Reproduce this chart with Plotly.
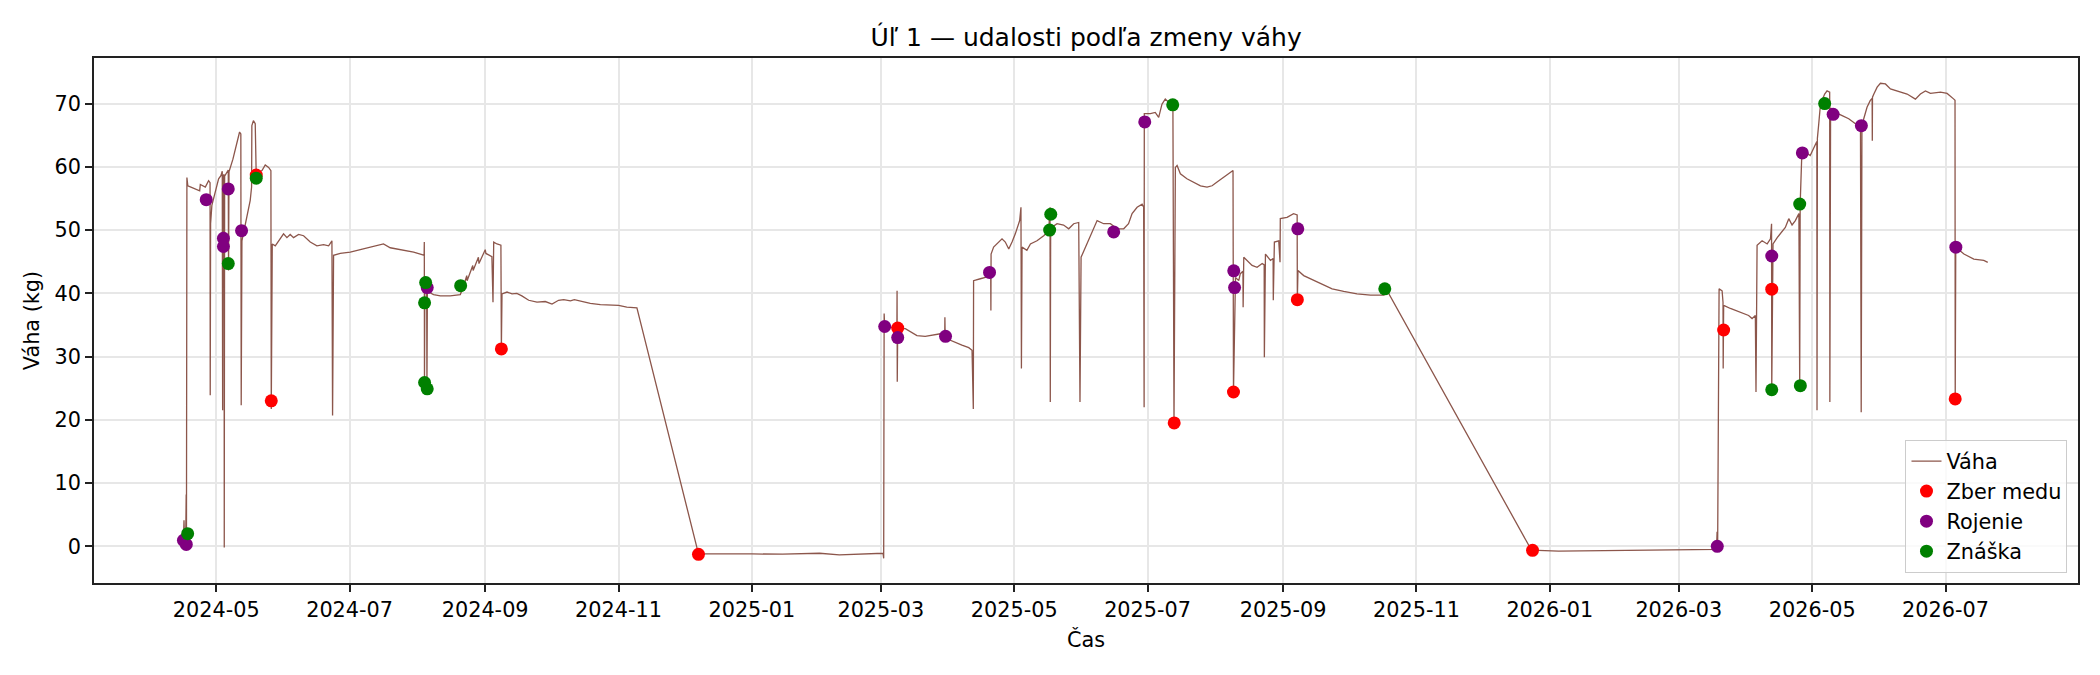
import plotly.graph_objects as go

# ---------------- data ----------------
# weight series (time, kg), split by season
vaha_2024 = [
    ("2024-04-16 00:00", 0.8), ("2024-04-16 06:00", 4.1), ("2024-04-16 12:00", 0.6),
    ("2024-04-17 00:00", 0.3), ("2024-04-17 06:00", 8.2), ("2024-04-17 09:00", 1.0),
    ("2024-04-17 14:00", 58.3), ("2024-04-18 00:00", 57.0), ("2024-04-19 10:00", 56.8),
    ("2024-04-21 10:00", 56.5), ("2024-04-23 10:00", 56.2), ("2024-04-23 17:00", 57.2),
    ("2024-04-25 05:00", 57.0), ("2024-04-26 00:00", 56.8), ("2024-04-27 12:00", 57.8),
    ("2024-04-28 04:00", 57.5), ("2024-04-28 06:00", 23.9), ("2024-04-28 10:00", 51.0),
    ("2024-04-29 00:00", 53.9), ("2024-04-30 13:00", 56.2), ("2024-05-02 02:00", 58.1),
    ("2024-05-03 03:00", 58.6), ("2024-05-03 18:00", 59.3), ("2024-05-03 22:00", 21.5),
    ("2024-05-04 02:00", 58.5), ("2024-05-04 14:00", 58.8), ("2024-05-04 16:00", -0.2),
    ("2024-05-04 20:00", 58.5), ("2024-05-06 12:00", 59.5), ("2024-05-06 15:00", 43.6),
    ("2024-05-06 20:00", 59.2), ("2024-05-08 15:00", 61.2), ("2024-05-10 04:00", 63.6),
    ("2024-05-11 16:00", 65.5), ("2024-05-12 06:00", 65.2), ("2024-05-12 10:00", 22.3),
    ("2024-05-12 18:00", 48.3), ("2024-05-15 00:00", 52.0), ("2024-05-16 13:00", 54.7),
    ("2024-05-17 04:00", 56.8), ("2024-05-17 07:00", 66.5), ("2024-05-18 00:00", 67.3),
    ("2024-05-18 20:00", 66.8), ("2024-05-19 07:00", 58.5), ("2024-05-20 09:00", 59.1),
    ("2024-05-21 22:00", 59.4), ("2024-05-23 10:00", 60.3), ("2024-05-24 23:00", 59.9),
    ("2024-05-26 00:00", 59.4), ("2024-05-26 04:00", 21.7), ("2024-05-26 15:00", 47.8),
    ("2024-05-28 00:00", 47.5), ("2024-05-31 19:00", 49.4), ("2024-06-02 08:00", 48.8),
    ("2024-06-03 20:00", 49.3), ("2024-06-05 09:00", 48.8), ("2024-06-07 16:00", 49.3),
    ("2024-06-09 23:00", 49.1), ("2024-06-13 00:00", 48.1), ("2024-06-16 01:00", 47.5),
    ("2024-06-19 02:00", 47.7), ("2024-06-21 10:00", 47.5), ("2024-06-22 22:00", 48.3),
    ("2024-06-23 05:00", 20.7), ("2024-06-23 16:00", 46.0), ("2024-06-26 17:00", 46.3),
    ("2024-07-01 07:00", 46.5), ("2024-07-05 21:00", 46.9), ("2024-07-10 10:00", 47.3),
    ("2024-07-15 00:00", 47.7), ("2024-07-16 12:00", 47.8), ("2024-07-19 14:00", 47.2),
    ("2024-07-24 04:00", 46.9), ("2024-07-30 07:00", 46.5), ("2024-08-03 03:00", 46.1),
    ("2024-08-04 02:00", 46.0), ("2024-08-04 04:00", 48.1), ("2024-08-04 06:00", 25.6),
    ("2024-08-04 10:00", 41.0), ("2024-08-05 06:00", 40.6), ("2024-08-05 09:00", 24.9),
    ("2024-08-05 14:00", 40.4), ("2024-08-06 03:00", 40.2), ("2024-08-08 10:00", 39.8),
    ("2024-08-11 12:00", 39.6), ("2024-08-16 00:00", 39.6), ("2024-08-20 15:00", 39.8),
    ("2024-08-22 00:00", 41.0), ("2024-08-23 14:00", 42.8), ("2024-08-23 18:00", 42.0),
    ("2024-08-26 08:00", 44.4), ("2024-08-26 12:00", 43.6), ("2024-08-28 22:00", 45.7),
    ("2024-08-29 04:00", 44.7), ("2024-09-01 01:00", 46.9), ("2024-09-01 08:00", 46.3),
    ("2024-09-04 02:00", 45.8), ("2024-09-04 14:00", 38.6), ("2024-09-04 22:00", 48.1),
    ("2024-09-06 10:00", 47.8), ("2024-09-08 05:00", 47.6), ("2024-09-08 10:00", 31.2),
    ("2024-09-08 17:00", 39.9), ("2024-09-11 00:00", 40.2), ("2024-09-13 07:00", 39.9),
    ("2024-09-15 12:00", 40.0), ("2024-09-17 19:00", 39.6), ("2024-09-20 22:00", 38.9),
    ("2024-09-24 17:00", 38.6), ("2024-09-28 12:00", 38.7), ("2024-10-01 14:00", 38.3),
    ("2024-10-04 14:00", 38.9), ("2024-10-06 22:00", 39.0), ("2024-10-10 00:00", 38.8),
    ("2024-10-11 19:00", 39.0), ("2024-10-14 12:00", 38.8), ("2024-10-19 02:00", 38.4),
    ("2024-10-23 17:00", 38.2), ("2024-10-28 05:00", 38.1), ("2024-11-01 01:00", 38.1),
    ("2024-11-04 19:00", 37.8), ("2024-11-09 10:00", 37.7),
]
vaha_zima_1 = [
    ("2024-12-07 14:00", -1.2), ("2024-12-20 00:00", -1.15), ("2025-01-01 00:00", -1.2),
    ("2025-01-15 00:00", -1.25), ("2025-02-01 00:00", -1.1), ("2025-02-10 00:00", -1.35),
    ("2025-02-20 00:00", -1.2), ("2025-03-02 00:00", -1.1), ("2025-03-02 07:00", -1.9),
]
vaha_2025 = [
    ("2025-03-02 12:00", 36.8), ("2025-03-02 18:00", 34.75), ("2025-03-05 07:00", 34.6),
    ("2025-03-08 08:00", 34.5), ("2025-03-08 10:00", 40.4), ("2025-03-08 12:00", 26.0),
    ("2025-03-08 17:00", 34.4), ("2025-03-12 05:00", 34.4), ("2025-03-14 12:00", 33.9),
    ("2025-03-17 12:00", 33.3), ("2025-03-21 07:00", 33.2), ("2025-03-25 02:00", 33.4),
    ("2025-03-28 05:00", 33.6), ("2025-03-30 05:00", 33.3), ("2025-03-30 07:00", 36.2),
    ("2025-03-30 10:00", 33.2), ("2025-03-31 05:00", 32.8), ("2025-04-03 07:00", 32.3),
    ("2025-04-07 02:00", 31.8), ("2025-04-10 05:00", 31.4), ("2025-04-11 17:00", 31.0),
    ("2025-04-12 07:00", 21.7), ("2025-04-12 10:00", 42.0), ("2025-04-15 12:00", 42.3),
    ("2025-04-17 19:00", 42.5), ("2025-04-20 06:00", 43.0), ("2025-04-20 08:00", 37.3),
    ("2025-04-20 10:00", 46.2), ("2025-04-21 14:00", 47.3), ("2025-04-23 22:00", 48.1),
    ("2025-04-25 10:00", 48.6), ("2025-04-26 22:00", 48.1), ("2025-04-28 12:00", 47.0),
    ("2025-04-30 00:00", 48.1), ("2025-05-01 12:00", 49.4), ("2025-05-03 12:00", 51.5),
    ("2025-05-04 02:00", 53.6), ("2025-05-04 07:00", 28.1), ("2025-05-04 14:00", 47.3),
    ("2025-05-06 19:00", 46.8), ("2025-05-08 10:00", 47.8), ("2025-05-11 10:00", 48.3),
    ("2025-05-14 12:00", 49.1), ("2025-05-16 19:00", 49.9), ("2025-05-17 09:00", 53.6),
    ("2025-05-17 12:00", 22.8), ("2025-05-17 16:00", 50.3), ("2025-05-20 14:00", 51.0),
    ("2025-05-23 14:00", 50.8), ("2025-05-25 22:00", 50.2), ("2025-05-28 05:00", 51.0),
    ("2025-05-30 12:00", 51.2), ("2025-05-31 02:00", 22.8), ("2025-05-31 14:00", 45.7),
    ("2025-06-03 07:00", 47.8), ("2025-06-05 14:00", 49.7), ("2025-06-07 22:00", 51.5),
    ("2025-06-10 22:00", 51.0), ("2025-06-14 00:00", 51.0), ("2025-06-17 00:00", 50.2),
    ("2025-06-20 02:00", 50.2), ("2025-06-22 07:00", 51.0), ("2025-06-23 22:00", 52.6),
    ("2025-06-26 05:00", 53.6), ("2025-06-28 12:00", 54.1), ("2025-06-29 05:00", 53.6),
    ("2025-06-29 10:00", 22.0), ("2025-06-29 12:00", 68.4), ("2025-07-02 07:00", 68.4),
    ("2025-07-04 12:00", 68.6), ("2025-07-06 02:00", 67.8), ("2025-07-07 14:00", 69.9),
    ("2025-07-09 02:00", 70.7), ("2025-07-10 14:00", 70.2), ("2025-07-12 14:00", 69.9),
    ("2025-07-13 02:00", 19.5), ("2025-07-13 08:00", 46.8), ("2025-07-13 17:00", 59.9),
    ("2025-07-14 12:00", 60.2), ("2025-07-16 00:00", 58.9), ("2025-07-19 00:00", 58.1),
    ("2025-07-22 02:00", 57.6), ("2025-07-25 05:00", 57.0), ("2025-07-28 05:00", 56.8),
    ("2025-07-30 12:00", 57.0), ("2025-08-01 19:00", 57.6), ("2025-08-04 19:00", 58.3),
    ("2025-08-07 02:00", 58.9), ("2025-08-09 02:00", 59.4), ("2025-08-09 07:00", 24.4),
    ("2025-08-10 05:00", 42.5), ("2025-08-11 17:00", 42.0), ("2025-08-12 10:00", 43.1),
    ("2025-08-13 15:00", 43.5), ("2025-08-13 17:00", 37.8), ("2025-08-14 00:00", 45.7),
    ("2025-08-15 12:00", 45.2), ("2025-08-17 19:00", 44.4), ("2025-08-20 02:00", 44.1),
    ("2025-08-22 10:00", 44.7), ("2025-08-23 08:00", 44.5), ("2025-08-23 10:00", 29.9),
    ("2025-08-23 22:00", 46.2), ("2025-08-26 05:00", 45.2), ("2025-08-27 10:00", 45.5),
    ("2025-08-27 12:00", 38.9), ("2025-08-28 00:00", 48.1), ("2025-08-30 00:00", 48.3),
    ("2025-08-30 14:00", 44.9), ("2025-08-30 17:00", 51.8), ("2025-09-02 19:00", 52.0),
    ("2025-09-05 19:00", 52.6), ("2025-09-07 10:00", 52.4), ("2025-09-07 12:00", 39.0),
    ("2025-09-07 19:00", 43.6), ("2025-09-10 10:00", 42.8), ("2025-09-13 12:00", 42.3),
    ("2025-09-18 00:00", 41.5), ("2025-09-23 10:00", 40.7), ("2025-09-28 17:00", 40.3),
    ("2025-10-04 19:00", 39.9), ("2025-10-11 00:00", 39.7), ("2025-10-17 02:00", 39.7),
    ("2025-10-18 14:00", 40.4),
]
vaha_zima_2 = [
    ("2025-12-23 14:00", -0.6), ("2026-01-05 00:00", -0.75), ("2026-01-20 00:00", -0.7),
    ("2026-02-02 00:00", -0.68), ("2026-02-17 12:00", -0.65), ("2026-03-05 00:00", -0.6),
    ("2026-03-15 12:00", -0.52), ("2026-03-18 06:00", -0.5), ("2026-03-18 12:00", 2.3),
    ("2026-03-18 18:00", -0.1),
]
vaha_2026 = [
    ("2026-03-19 10:00", 40.7), ("2026-03-20 19:00", 40.4), ("2026-03-21 05:00", 38.6),
    ("2026-03-21 07:00", 28.1), ("2026-03-21 12:00", 38.1), ("2026-03-24 14:00", 37.6),
    ("2026-03-29 05:00", 37.0), ("2026-04-01 22:00", 36.5), ("2026-04-03 12:00", 36.0),
    ("2026-04-05 00:00", 36.5), ("2026-04-05 07:00", 24.4), ("2026-04-05 19:00", 47.6),
    ("2026-04-08 02:00", 48.3), ("2026-04-10 10:00", 47.8), ("2026-04-11 22:00", 48.6),
    ("2026-04-12 10:00", 51.0), ("2026-04-12 12:00", 24.75), ("2026-04-13 02:00", 47.8),
    ("2026-04-15 00:00", 48.8), ("2026-04-17 05:00", 49.7), ("2026-04-18 17:00", 50.4),
    ("2026-04-20 07:00", 51.8), ("2026-04-21 19:00", 50.8), ("2026-04-23 07:00", 51.5),
    ("2026-04-24 22:00", 52.6), ("2026-04-25 07:00", 25.4), ("2026-04-25 12:00", 54.1),
    ("2026-04-26 06:00", 62.0), ("2026-04-26 19:00", 62.6), ("2026-04-30 02:00", 61.8),
    ("2026-05-02 12:00", 63.6), ("2026-05-03 03:00", 64.0), ("2026-05-03 05:00", 21.5),
    ("2026-05-03 09:00", 64.5), ("2026-05-04 00:00", 66.8), ("2026-05-04 19:00", 69.9),
    ("2026-05-06 17:00", 71.5), ("2026-05-07 19:00", 72.0), ("2026-05-09 00:00", 71.8),
    ("2026-05-09 02:00", 22.8), ("2026-05-09 10:00", 69.3), ("2026-05-10 19:00", 68.9),
    ("2026-05-11 14:00", 68.6), ("2026-05-14 17:00", 68.1), ("2026-05-17 17:00", 67.6),
    ("2026-05-20 19:00", 66.8), ("2026-05-23 02:00", 66.2), ("2026-05-23 10:00", 21.2),
    ("2026-05-23 18:00", 66.0), ("2026-05-24 14:00", 67.6), ("2026-05-26 02:00", 69.4),
    ("2026-05-27 14:00", 70.5), ("2026-05-28 10:00", 70.8), ("2026-05-28 12:00", 64.1),
    ("2026-05-28 14:00", 71.0), ("2026-05-29 05:00", 71.5), ("2026-05-30 17:00", 72.6),
    ("2026-06-01 05:00", 73.2), ("2026-06-03 12:00", 73.1), ("2026-06-05 19:00", 72.3),
    ("2026-06-08 19:00", 72.0), ("2026-06-13 10:00", 71.5), ("2026-06-17 05:00", 70.7),
    ("2026-06-19 12:00", 71.5), ("2026-06-21 19:00", 72.0), ("2026-06-24 02:00", 71.6),
    ("2026-06-28 17:00", 71.8), ("2026-07-01 17:00", 71.6), ("2026-07-04 19:00", 70.7),
    ("2026-07-05 08:00", 70.5), ("2026-07-05 10:00", 23.3), ("2026-07-05 16:00", 47.3),
    ("2026-07-09 10:00", 46.2), ("2026-07-13 22:00", 45.4), ("2026-07-18 12:00", 45.2),
    ("2026-07-20 07:00", 44.9),
]

# events
zber_medu_cas = ["2024-05-19 07:00", "2024-05-26 04:00", "2024-09-08 10:00", "2024-12-07 14:00",
                 "2025-03-08 17:00", "2025-07-13 04:00", "2025-08-09 07:00", "2025-09-07 12:00",
                 "2025-12-24 02:00", "2026-03-21 12:00", "2026-04-12 12:00", "2026-07-05 10:00"]
zber_medu_kg = [58.7, 23.0, 31.2, -1.26, 34.5, 19.5, 24.4, 39.0, -0.63, 34.2, 40.65, 23.3]

rojenie_cas = ["2024-04-16 00:00", "2024-04-17 07:00", "2024-04-26 10:00", "2024-05-06 12:00",
               "2024-05-04 07:00", "2024-05-04 07:00", "2024-05-12 14:00", "2024-08-05 12:00",
               "2025-03-02 18:00", "2025-03-08 17:00", "2025-03-30 14:00", "2025-04-19 17:00",
               "2025-06-15 12:00", "2025-06-29 17:00", "2025-08-09 10:00", "2025-08-09 19:00",
               "2025-09-07 17:00", "2026-03-18 14:00", "2026-04-12 12:00", "2026-04-26 12:00",
               "2026-05-10 14:00", "2026-05-23 12:00", "2026-07-05 17:00"]
rojenie_kg = [0.95, 0.3, 54.8, 56.5, 48.7, 47.4, 49.9, 40.9, 34.75, 33.0, 33.2, 43.3,
              49.7, 67.1, 43.55, 40.9, 50.2, 0.0, 45.9, 62.2, 68.3, 66.5, 47.3]

znaska_cas = ["2024-04-17 22:00", "2024-05-06 12:00", "2024-05-19 07:00", "2024-08-04 19:00",
              "2024-08-04 07:00", "2024-08-04 07:00", "2024-08-05 12:00", "2024-08-20 19:00",
              "2025-05-17 17:00", "2025-05-17 05:00", "2025-07-12 12:00", "2025-10-17 12:00",
              "2026-04-12 12:00", "2026-04-25 07:00", "2026-04-25 14:00", "2026-05-06 17:00"]
znaska_kg = [2.0, 44.7, 58.2, 41.7, 38.5, 25.9, 24.9, 41.2, 52.5, 50.0, 69.8, 40.7,
             24.75, 54.1, 25.4, 70.0]

y_ticks = [0, 10, 20, 30, 40, 50, 60, 70]

# ---------------- figure ----------------
vaha = vaha_2024 + vaha_zima_1 + vaha_2025 + vaha_zima_2 + vaha_2026
vaha_cas = [t for t, _ in vaha]
vaha_kg = [v for _, v in vaha]

FONT = "DejaVu Sans"
fs = 20.8
axis_col = "#222222"

fig = go.Figure()
fig.add_trace(go.Scatter(x=vaha_cas, y=vaha_kg, mode="lines", name="Váha",
                         line=dict(color="#8c564b", width=1.3)))
fig.add_trace(go.Scatter(x=zber_medu_cas, y=zber_medu_kg, mode="markers", name="Zber medu",
                         marker=dict(color="red", size=13, line=dict(width=0))))
fig.add_trace(go.Scatter(x=rojenie_cas, y=rojenie_kg, mode="markers", name="Rojenie",
                         marker=dict(color="purple", size=13, line=dict(width=0))))
fig.add_trace(go.Scatter(x=znaska_cas, y=znaska_kg, mode="markers", name="Znáška",
                         marker=dict(color="green", size=13, line=dict(width=0))))

fig.update_layout(
    width=2100, height=675,
    margin=dict(l=94, r=22, t=58, b=92),
    paper_bgcolor="white", plot_bgcolor="white",
    font=dict(family=FONT, size=fs, color="black"),
    title=dict(text="Úľ 1 — udalosti podľa zmeny váhy", x=0.5172, xanchor="center",
               y=1 - 37 / 675, yanchor="middle", font=dict(size=25, family=FONT)),
    showlegend=True,
    legend=dict(x=0.9947, y=0.019, xanchor="right", yanchor="bottom",
                bgcolor="rgba(255,255,255,0.8)", bordercolor="#cccccc", borderwidth=1,
                font=dict(size=fs, family=FONT), tracegroupgap=0),
)
fig.update_xaxes(
    type="date", range=["2024-03-06 02:00", "2026-08-30 14:00"],
    tick0="2024-05-01", dtick="M2", tickformat="%Y-%m",
    ticks="outside", ticklen=7, tickwidth=1.7, tickcolor=axis_col,
    showline=True, linecolor=axis_col, linewidth=1.7, mirror=True,
    showgrid=True, gridcolor="#e7e7e7", gridwidth=1.5, zeroline=False,
    title=dict(text="Čas", font=dict(size=fs), standoff=12),
    tickfont=dict(size=fs),
)
fig.update_yaxes(
    range=[-5.8, 77.2], tickvals=y_ticks,
    ticks="outside", ticklen=7, tickwidth=1.7, tickcolor=axis_col,
    showline=True, linecolor=axis_col, linewidth=1.7, mirror=True,
    showgrid=True, gridcolor="#e7e7e7", gridwidth=1.5, zeroline=False,
    title=dict(text="Váha (kg)", font=dict(size=fs), standoff=9),
    tickfont=dict(size=fs),
)

fig.write_html("out.html")
